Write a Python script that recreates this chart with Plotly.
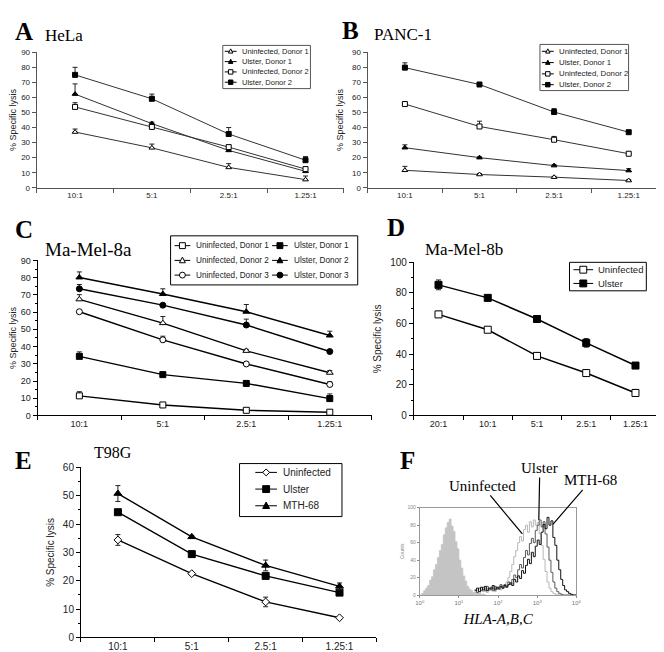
import numpy as np
import plotly.graph_objects as go

W, H = 664, 652
SANS = "Liberation Sans, Arial, sans-serif"
SERIF = "Liberation Serif, Times New Roman, serif"

# ---------------- data ----------------
ratios4 = ["10:1", "5:1", "2.5:1", "1.25:1"]
ratios5 = ["20:1", "10:1", "5:1", "2.5:1", "1.25:1"]

# A  HeLa
hela_uninf_d1 = [37.0, 26.5, 13.5, 5.4]
hela_uninf_d1_err = [2.0, 2.5, 2.5, 2.4]
hela_ulster_d1 = [62.2, 42.6, 24.8, 10.9]
hela_ulster_d1_err = [6.8, 1.0, 1.0, 1.0]
hela_uninf_d2 = [53.7, 40.4, 27.0, 12.4]
hela_uninf_d2_err = [2.8, 1.0, 1.0, 1.0]
hela_ulster_d2 = [75.0, 59.1, 35.7, 18.3]
hela_ulster_d2_err = [5.0, 3.1, 4.3, 2.4]

# B  PANC-1
panc_uninf_d1 = [11.6, 8.8, 7.0, 4.8]
panc_uninf_d1_err = [2.6, 0.6, 0.6, 0.6]
panc_ulster_d1 = [26.6, 20.0, 14.7, 11.4]
panc_ulster_d1_err = [1.9, 0.6, 0.6, 1.3]
panc_uninf_d2 = [55.6, 40.7, 31.9, 22.6]
panc_uninf_d2_err = [0.6, 3.5, 2.2, 0.6]
panc_ulster_d2 = [79.8, 68.6, 50.3, 36.9]
panc_ulster_d2_err = [3.2, 1.3, 2.3, 1.1]

# C  Ma-Mel-8a
mm8a_uninf_d1 = [11.4, 6.1, 3.0, 1.9]
mm8a_uninf_d1_err = [2.4, 0.5, 0.5, 1.1]
mm8a_ulster_d1 = [34.3, 23.7, 18.6, 9.8]
mm8a_ulster_d1_err = [2.6, 0.5, 0.5, 2.7]
mm8a_uninf_d2 = [67.4, 53.6, 37.5, 24.8]
mm8a_uninf_d2_err = [2.7, 3.8, 0.9, 1.3]
mm8a_ulster_d2 = [80.1, 70.5, 60.2, 46.4]
mm8a_ulster_d2_err = [3.2, 3.0, 4.2, 2.5]
mm8a_uninf_d3 = [60.2, 43.9, 29.9, 18.0]
mm8a_uninf_d3_err = [0.5, 2.1, 0.5, 1.5]
mm8a_ulster_d3 = [73.5, 64.0, 52.5, 37.1]
mm8a_ulster_d3_err = [2.5, 0.5, 3.4, 0.5]

# D  Ma-Mel-8b
mm8b_uninf = [66.0, 56.0, 38.9, 27.7, 14.7]
mm8b_uninf_err = [2.0, 1.4, 2.1, 1.7, 2.3]
mm8b_ulster = [85.3, 76.8, 63.0, 47.4, 32.6]
mm8b_ulster_err = [3.2, 1.9, 1.9, 2.8, 1.0]

# E  T98G
t98_uninf = [34.4, 22.5, 12.5, 6.9]
t98_uninf_err = [1.9, 0.4, 1.7, 0.4]
t98_ulster = [44.2, 29.4, 21.7, 15.8]
t98_ulster_err = [0.5, 0.5, 0.5, 0.8]
t98_mth = [50.8, 35.5, 25.4, 18.0]
t98_mth_err = [2.8, 0.5, 1.9, 1.2]

# F  flow cytometry, HLA-A,B,C (log10 fluorescence, counts)
ctrl_exp = [0.00, 0.05, 0.10, 0.15, 0.20, 0.25, 0.30, 0.35, 0.40, 0.45, 0.50, 0.55,
            0.60, 0.65, 0.70, 0.75, 0.80, 0.85, 0.90, 0.95, 1.00, 1.05, 1.10, 1.15,
            1.20, 1.25, 1.30, 1.35, 1.40, 1.45, 1.50, 1.55, 1.60, 1.65, 1.70]
ctrl_counts = [0, 2, 5, 8, 11, 17, 21, 29, 35, 43, 51, 58, 69, 77, 83, 87, 79, 73, 61,
               53, 40, 31, 22, 16, 10, 7, 5, 3, 2, 2, 1, 1, 1, 0, 0]
stain_exp = [1.40, 1.45, 1.50, 1.55, 1.60, 1.65, 1.70, 1.75, 1.80, 1.85, 1.90, 1.95,
             2.00, 2.05, 2.10, 2.15, 2.20, 2.25, 2.30, 2.35, 2.40, 2.45, 2.50, 2.55,
             2.60, 2.65, 2.70, 2.75, 2.80, 2.85, 2.90, 2.95, 3.00, 3.05, 3.10, 3.15,
             3.20, 3.25, 3.30, 3.35, 3.40, 3.45, 3.50, 3.55, 3.60, 3.65, 3.70, 3.75,
             3.80, 3.85, 3.90, 3.95, 4.00]
uninf_counts = [3, 5, 2, 6, 4, 7, 3, 6, 5, 8, 4, 7, 9, 6, 11, 9, 15, 20, 27, 35, 44, 51,
                60, 67, 62, 75, 80, 72, 84, 78, 86, 80, 83, 70, 57, 41, 27, 15, 8, 4, 2,
                1, 1, 0, 0, 0, 0, 0, 0, 0, 0, 0, 0]
ulster_counts = [6, 3, 8, 5, 9, 5, 10, 6, 9, 5, 10, 7, 9, 12, 8, 12, 10, 15, 12, 18, 23,
                 20, 29, 35, 31, 43, 51, 46, 59, 65, 60, 74, 80, 86, 78, 84, 70, 55, 40,
                 26, 15, 8, 4, 2, 1, 0, 0, 0, 0, 0, 0, 0, 0]
mth_counts = [5, 8, 4, 9, 6, 10, 5, 8, 7, 11, 6, 9, 7, 10, 8, 11, 9, 12, 14, 11, 18, 15,
              22, 19, 28, 25, 34, 41, 36, 49, 44, 56, 63, 58, 72, 81, 76, 89, 80, 85, 66,
              57, 40, 29, 18, 11, 6, 4, 2, 1, 0, 0, 0]

# legend labels
legend_ab = [("Uninfected, Donor 1", "triangle", False), ("Ulster, Donor 1", "triangle", True),
             ("Uninfected, Donor 2", "square", False), ("Ulster, Donor 2", "square", True)]
legend_c_left = [("Uninfected, Donor 1", "square", False), ("Uninfected, Donor 2", "triangle", False),
                 ("Uninfected, Donor 3", "circle", False)]
legend_c_right = [("Ulster, Donor 1", "square", True), ("Ulster, Donor 2", "triangle", True),
                  ("Ulster, Donor 3", "circle", True)]
legend_d = [("Uninfected", "square", False), ("Ulster", "square", True)]
legend_e = [("Uninfected", "diamond", False), ("Ulster", "square", True),
            ("MTH-68", "triangle", True)]


def X(px):
    return px / W


def Y(py):
    return 1 - py / H


fig = go.Figure()
SYM = {"triangle": "triangle-up", "square": "square", "circle": "circle", "diamond": "diamond"}


def add_series(xa, ya, cats, vals, errs, name, symbol, filled, size,
               lw=1.0, lc="#333333", sym_err=False):
    fig.add_trace(go.Scatter(
        x=cats, y=vals, name=name, mode="lines+markers", showlegend=False,
        xaxis=xa, yaxis=ya, cliponaxis=False,
        line=dict(color=lc, width=lw),
        marker=dict(symbol=SYM[symbol], size=size,
                    color=("black" if filled else "white"),
                    line=dict(color="black", width=1)),
        error_y=dict(type="data", array=errs,
                     arrayminus=(errs if sym_err else [0] * len(errs)),
                     symmetric=False, thickness=1, width=2.5, color="#222222"),
    ))


# A
add_series("x", "y", ratios4, hela_uninf_d1, hela_uninf_d1_err, "Uninfected, Donor 1", "triangle", False, 5)
add_series("x", "y", ratios4, hela_ulster_d1, hela_ulster_d1_err, "Ulster, Donor 1", "triangle", True, 5)
add_series("x", "y", ratios4, hela_uninf_d2, hela_uninf_d2_err, "Uninfected, Donor 2", "square", False, 5)
add_series("x", "y", ratios4, hela_ulster_d2, hela_ulster_d2_err, "Ulster, Donor 2", "square", True, 5)
# B
add_series("x2", "y2", ratios4, panc_uninf_d1, panc_uninf_d1_err, "Uninfected, Donor 1", "triangle", False, 5)
add_series("x2", "y2", ratios4, panc_ulster_d1, panc_ulster_d1_err, "Ulster, Donor 1", "triangle", True, 5)
add_series("x2", "y2", ratios4, panc_uninf_d2, panc_uninf_d2_err, "Uninfected, Donor 2", "square", False, 5)
add_series("x2", "y2", ratios4, panc_ulster_d2, panc_ulster_d2_err, "Ulster, Donor 2", "square", True, 5)
# C
add_series("x3", "y3", ratios4, mm8a_uninf_d1, mm8a_uninf_d1_err, "Uninfected, Donor 1", "square", False, 6, 1.4, "black")
add_series("x3", "y3", ratios4, mm8a_uninf_d2, mm8a_uninf_d2_err, "Uninfected, Donor 2", "triangle", False, 6, 1.4, "black")
add_series("x3", "y3", ratios4, mm8a_uninf_d3, mm8a_uninf_d3_err, "Uninfected, Donor 3", "circle", False, 6, 1.4, "black")
add_series("x3", "y3", ratios4, mm8a_ulster_d1, mm8a_ulster_d1_err, "Ulster, Donor 1", "square", True, 6, 1.4, "black")
add_series("x3", "y3", ratios4, mm8a_ulster_d2, mm8a_ulster_d2_err, "Ulster, Donor 2", "triangle", True, 6, 1.4, "black")
add_series("x3", "y3", ratios4, mm8a_ulster_d3, mm8a_ulster_d3_err, "Ulster, Donor 3", "circle", True, 6, 1.4, "black")
# D
add_series("x4", "y4", ratios5, mm8b_uninf, mm8b_uninf_err, "Uninfected", "square", False, 7, 1.5, "black", True)
add_series("x4", "y4", ratios5, mm8b_ulster, mm8b_ulster_err, "Ulster", "square", True, 7, 1.5, "black", True)
# E
add_series("x5", "y5", ratios4, t98_uninf, t98_uninf_err, "Uninfected", "diamond", False, 6, 1.4, "black", True)
add_series("x5", "y5", ratios4, t98_ulster, t98_ulster_err, "Ulster", "square", True, 7, 1.4, "black", True)
add_series("x5", "y5", ratios4, t98_mth, t98_mth_err, "MTH-68", "triangle", True, 7, 1.4, "black", True)

# F histograms
fig.add_trace(go.Scatter(x=10 ** np.array(ctrl_exp), y=ctrl_counts, xaxis="x6", yaxis="y6",
                         mode="lines", line=dict(shape="hv", width=0.8, color="#c4c4c4"),
                         fill="tozeroy", fillcolor="#c4c4c4", showlegend=False, name="Isotype"))
fig.add_trace(go.Scatter(x=10 ** np.array(stain_exp), y=uninf_counts, xaxis="x6", yaxis="y6",
                         mode="lines", line=dict(shape="hv", width=1, color="#b8b8b8"),
                         showlegend=False, name="Uninfected"))
fig.add_trace(go.Scatter(x=10 ** np.array(stain_exp), y=ulster_counts, xaxis="x6", yaxis="y6",
                         mode="lines", line=dict(shape="hv", width=1, color="#5a5a5a"),
                         showlegend=False, name="Ulster"))
fig.add_trace(go.Scatter(x=10 ** np.array(stain_exp), y=mth_counts, xaxis="x6", yaxis="y6",
                         mode="lines", line=dict(shape="hv", width=1, color="#111111"),
                         showlegend=False, name="MTH-68"))


def xcat(dom, anchor, cats, size=9, lc="black"):
    return dict(domain=dom, anchor=anchor, type="category", categoryorder="array",
                categoryarray=cats, range=[-0.5, len(cats) - 0.5], tickson="boundaries",
                ticks="outside", ticklen=4, tickcolor=lc, showline=True, linecolor=lc,
                linewidth=1, showgrid=False, zeroline=False,
                tickfont=dict(family=SANS, size=size, color="#222222"))


def ylin(dom, anchor, rng, dtick, size=9, minor=None, lc="black", tsize=9):
    d = dict(domain=dom, anchor=anchor, range=rng, dtick=dtick, ticks="outside",
             ticklen=4, tickcolor=lc, showline=True, linecolor=lc, linewidth=1,
             showgrid=False, zeroline=False,
             tickfont=dict(family=SANS, size=size, color="#222222"),
             title=dict(text="% Specific lysis", standoff=6,
                        font=dict(family=SANS, size=tsize, color="#222222")))
    if minor:
        d["minor"] = dict(dtick=minor, ticks="outside", ticklen=2, tickcolor=lc, showgrid=False)
    return d


shapes = []
annotations = []


def draw_legend(box, rows, entries, kx, half, tx, fsize, msize, border=True, bcol="black"):
    if border:
        x0, y0, x1, y1 = box
        shapes.append(dict(type="rect", xref="paper", yref="paper", x0=X(x0), x1=X(x1),
                           y0=Y(y1), y1=Y(y0), line=dict(color=bcol, width=1),
                           fillcolor="white", layer="above"))
    for (label, sym, filled), cy in zip(entries, rows):
        shapes.append(dict(type="line", xref="paper", yref="paper", x0=X(kx - half), x1=X(kx + half),
                           y0=Y(cy), y1=Y(cy), line=dict(color="black", width=1), layer="above"))
        s = msize / 2.0
        fc = "black" if filled else "white"
        mk = dict(xref="paper", yref="paper", line=dict(color="black", width=1), fillcolor=fc,
                  layer="above")
        if sym == "square":
            mk.update(type="rect", x0=X(kx - s), x1=X(kx + s), y0=Y(cy + s), y1=Y(cy - s))
        elif sym == "circle":
            mk.update(type="circle", x0=X(kx - s), x1=X(kx + s), y0=Y(cy + s), y1=Y(cy - s))
        elif sym == "triangle":
            pts = [(kx, cy - s * 1.1), (kx + s, cy + s * 0.8), (kx - s, cy + s * 0.8)]
            mk.update(type="path", path="M" + " L".join("%.5f,%.5f" % (X(a), Y(b)) for a, b in pts) + " Z")
        elif sym == "diamond":
            pts = [(kx, cy - s), (kx + s, cy), (kx, cy + s), (kx - s, cy)]
            mk.update(type="path", path="M" + " L".join("%.5f,%.5f" % (X(a), Y(b)) for a, b in pts) + " Z")
        shapes.append(mk)
        annotations.append(dict(text=label, x=X(tx), y=Y(cy), xref="paper", yref="paper",
                                xanchor="left", yanchor="middle", showarrow=False,
                                font=dict(family=SANS, size=fsize, color="#222222")))


draw_legend((213, 32, 302, 76), [38, 48.5, 59, 69.5], legend_ab, 221, 6, 230, 7.5, 4.5, True, "#555555")
draw_legend((535, 31, 625, 78), [38, 49.5, 61, 72], legend_ab, 543, 6, 552, 7.8, 4.5, True, "#555555")
draw_legend((160, 226, 350, 276), [236, 251, 266], legend_c_left, 172, 8, 184, 8.2, 6)
draw_legend((0, 0, 0, 0), [236, 251, 266], legend_c_right, 271, 8, 283, 8.2, 6, False)
draw_legend((565, 253, 643, 282), [260.5, 274.5], legend_d, 579, 10, 592, 9.5, 7)
draw_legend((230, 458, 334, 512), [467, 484, 501], legend_e, 257, 11, 272, 10, 7)

letters = [("A", 0, 2), ("B", 332, 1), ("C", 0, 204), ("D", 378, 202), ("E", 0, 439),
           ("F", 391, 439)]
for t, px, py in letters:
    annotations.append(dict(text="<b>" + t + "</b>", x=X(px), y=Y(py), xref="paper", yref="paper",
                            xanchor="left", yanchor="top", showarrow=False,
                            font=dict(family=SERIF, size=25, color="black")))
names = [("HeLa", 30, 10, 17), ("PANC-1", 364, 9, 17), ("Ma-Mel-8a", 30, 227, 19),
         ("Ma-Mel-8b", 416, 228, 17), ("T98G", 80, 436, 16)]
for t, px, py, s in names:
    annotations.append(dict(text=t, x=X(px), y=Y(py), xref="paper", yref="paper",
                            xanchor="left", yanchor="top", showarrow=False,
                            font=dict(family=SERIF, size=s, color="black")))

# F labels with leader lines pointing at curves
for t, xe, yc, ax, ay in [("Uninfected", 2.62, 70, -40, -48),
                           ("Ulster", 3.04, 86, 1, -52),
                           ("MTH-68", 3.40, 81, 38, -44)]:
    annotations.append(dict(text=t, x=xe, y=yc, xref="x6", yref="y6", ax=ax, ay=ay,
                            showarrow=True, arrowhead=0, arrowwidth=1.2, arrowcolor="black",
                            font=dict(family=SERIF, size=15, color="black")))

layout = dict(
    width=W, height=H, margin=dict(l=0, r=0, t=0, b=0),
    paper_bgcolor="white", plot_bgcolor="rgba(0,0,0,0)", showlegend=False,
    font=dict(family=SANS, color="black"),
    xaxis=xcat([X(24), X(336)], "y", ratios4, 8, "#555555"),
    yaxis=ylin([Y(177), Y(39)], "x", [0, 90], 10, 8, None, "#555555", 9),
    xaxis2=xcat([X(360), X(663)], "y2", ratios4, 8, "#555555"),
    yaxis2=ylin([Y(177), Y(39)], "x2", [0, 90], 10, 8, None, "#555555", 9),
    xaxis3=xcat([X(25), X(364)], "y3", ratios4, 9),
    yaxis3=ylin([Y(409), Y(251)], "x3", [0, 90], 10, 9, 5),
    xaxis4=xcat([X(407), X(657)], "y4", ratios5, 9),
    yaxis4=ylin([Y(409), Y(253)], "x4", [0, 100], 20, 10, 10, "black", 10),
    xaxis5=xcat([X(69), X(369)], "y5", ratios4, 10),
    yaxis5=ylin([Y(635), Y(462)], "x5", [0, 60], 10, 10, 5, "black", 10),
    xaxis6=dict(domain=[X(413), X(572)], anchor="y6", type="log", range=[0, 4],
                tickvals=[1, 10, 100, 1000, 10000],
                ticktext=["10<sup>0</sup>", "10<sup>1</sup>", "10<sup>2</sup>",
                          "10<sup>3</sup>", "10<sup>4</sup>"],
                ticks="outside", ticklen=2, tickcolor="#888888",
                showline=True, linecolor="#999999", mirror=True, showgrid=False,
                zeroline=False, tickfont=dict(family=SANS, size=6, color="#777777"),
                title=dict(text="HLA-A,B,C", standoff=8,
                           font=dict(family=SERIF, size=15, style="italic", color="black"))),
    yaxis6=dict(domain=[Y(592), Y(503)], anchor="x6", range=[0, 100], dtick=20,
                ticks="outside", ticklen=2, tickcolor="#888888",
                showline=True, linecolor="#999999", mirror=True, showgrid=False,
                zeroline=False, tickfont=dict(family=SANS, size=5, color="#888888"),
                title=dict(text="Counts", standoff=2,
                           font=dict(family=SANS, size=5, color="#888888"))),
    shapes=shapes,
    annotations=annotations,
)
fig.update_layout(**layout)

fig.write_html("out.html")
